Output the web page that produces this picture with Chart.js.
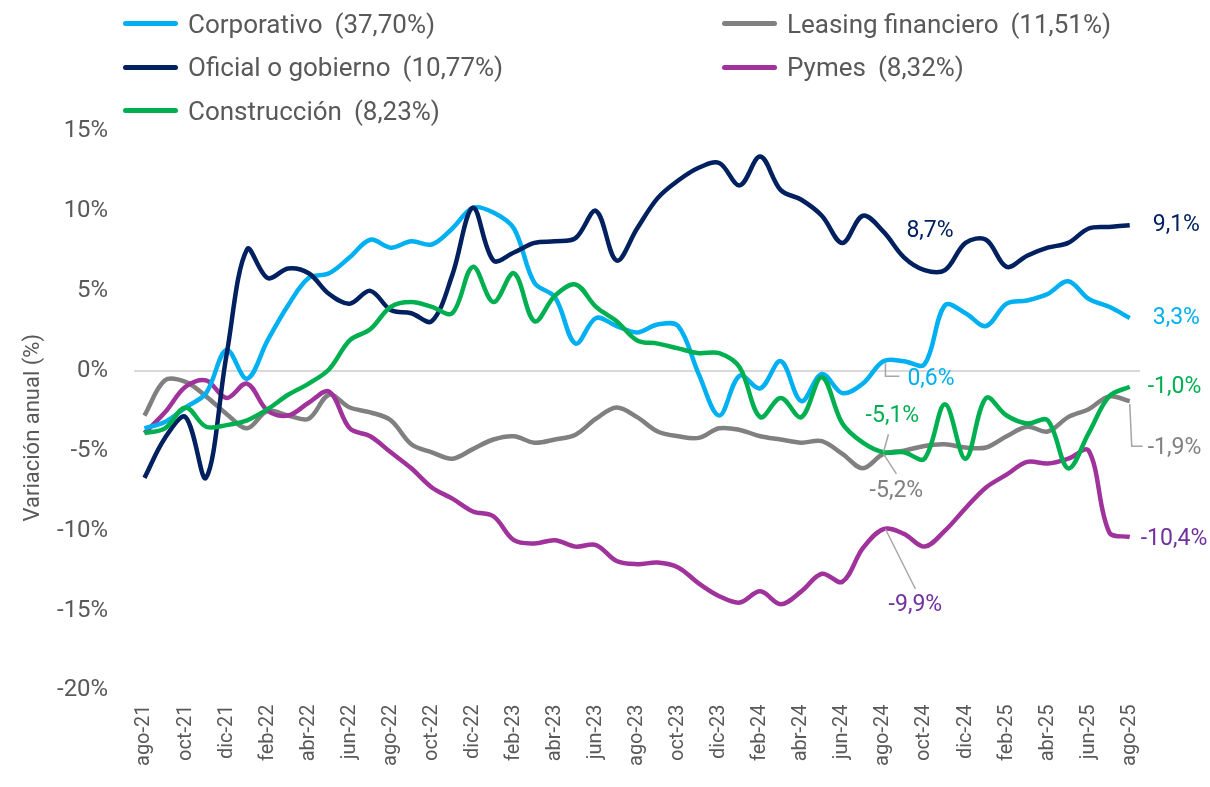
<!DOCTYPE html>
<html lang="es">
<head>
    <meta charset="UTF-8">
    <title>Variación anual de la cartera por segmento</title>
    <script src="https://cdn.jsdelivr.net/npm/chart.js"></script>
    <style>
        body { margin: 0; background: #fff; font-family: Roboto, sans-serif; }
        #wrap { position: relative; width: 1210px; height: 787px; }
        #leyenda {
            position: absolute; left: 123px; top: 2px;
            display: grid; grid-auto-flow: column;
            grid-template-rows: repeat(3, 43.5px);
            grid-template-columns: 599px auto;
        }
        .item { display: flex; align-items: center; font-size: 26px; color: #595959; white-space: nowrap; }
        .item .linea { width: 55px; height: 5px; border-radius: 3px; margin-right: 10px; }
        .item .pct { margin-left: 12px; }
    </style>
</head>
<body>
<div id="wrap">
    <canvas id="grafico" width="1210" height="787"></canvas>
    <div id="leyenda"></div>
</div>

<script>
    const meses = ['ago-21','sep-21','oct-21','nov-21','dic-21','ene-22','feb-22','mar-22','abr-22','may-22','jun-22','jul-22',
        'ago-22','sep-22','oct-22','nov-22','dic-22','ene-23','feb-23','mar-23','abr-23','may-23','jun-23','jul-23',
        'ago-23','sep-23','oct-23','nov-23','dic-23','ene-24','feb-24','mar-24','abr-24','may-24','jun-24','jul-24',
        'ago-24','sep-24','oct-24','nov-24','dic-24','ene-25','feb-25','mar-25','abr-25','may-25','jun-25','jul-25','ago-25'];

    const corporativo = [-3.6, -3.2, -2.3, -1.4, 1.3, -0.5, 1.9, 4.1, 5.8, 6.1, 7.1, 8.2,
        7.7, 8.1, 7.9, 8.9, 10.2, 9.9, 8.9, 5.5, 4.6, 1.7, 3.3, 2.8,
        2.4, 2.9, 2.8, -0.2, -2.8, -0.3, -1.1, 0.6, -1.9, -0.2, -1.4, -0.8,
        0.6, 0.6, 0.4, 4.1, 3.6, 2.8, 4.2, 4.4, 4.8, 5.6, 4.5, 4.0, 3.3];

    const oficial = [-6.7, -4.2, -2.9, -6.7, 1.0, 7.6, 5.8, 6.4, 6.1, 4.8, 4.2, 5.0,
        3.8, 3.6, 3.1, 6.0, 10.2, 6.9, 7.4, 8.0, 8.1, 8.3, 10.0, 6.9,
        8.9, 10.8, 11.9, 12.7, 13.0, 11.6, 13.4, 11.3, 10.7, 9.7, 8.0, 9.7,
        8.7, 7.1, 6.3, 6.3, 8.0, 8.2, 6.5, 7.2, 7.7, 8.0, 8.9, 9.0, 9.1];

    const construccion = [-3.9, -3.6, -2.3, -3.5, -3.4, -3.1, -2.4, -1.5, -0.8, 0.1, 1.9, 2.6,
        4.0, 4.3, 4.0, 3.6, 6.5, 4.3, 6.1, 3.1, 4.7, 5.4, 4.0, 3.1,
        1.9, 1.7, 1.4, 1.1, 1.1, 0.2, -2.9, -1.7, -2.9, -0.4, -3.3, -4.5,
        -5.1, -5.1, -5.5, -2.1, -5.5, -1.7, -2.8, -3.3, -3.1, -6.1, -3.9, -1.6, -1.0];

    const leasing = [-2.8, -0.6, -0.7, -1.6, -2.7, -3.6, -2.5, -2.8, -3.0, -1.5, -2.3, -2.6,
        -3.1, -4.6, -5.1, -5.5, -4.9, -4.3, -4.1, -4.5, -4.3, -4.0, -3.0, -2.3,
        -2.9, -3.8, -4.1, -4.2, -3.6, -3.7, -4.1, -4.3, -4.5, -4.4, -5.2, -6.1,
        -5.2, -5.0, -4.7, -4.6, -4.8, -4.8, -4.1, -3.5, -3.8, -2.9, -2.4, -1.6, -1.9];

    const pymes = [-3.9, -2.6, -1.0, -0.6, -1.7, -0.8, -2.5, -2.8, -2.0, -1.3, -3.6, -4.1,
        -5.1, -6.1, -7.3, -8.0, -8.8, -9.1, -10.6, -10.8, -10.6, -11.0, -10.9, -11.9,
        -12.1, -12.0, -12.3, -13.3, -14.1, -14.5, -13.8, -14.6, -13.8, -12.7, -13.2, -11.1,
        -9.9, -10.2, -11.0, -10.0, -8.6, -7.3, -6.5, -5.7, -5.8, -5.5, -5.0, -10.1, -10.4];

    const nombres = ['Corporativo', 'Oficial o gobierno', 'Construcción', 'Leasing financiero', 'Pymes'];
    const participacion = [37.70, 10.77, 8.23, 11.51, 8.32];
    const series = [corporativo, oficial, construccion, leasing, pymes];
    const colores = ['#00B0F0', '#002060', '#00B050', '#808080', '#A0329B'];
    const coloresTexto = ['#00B0F0', '#002060', '#00B050', '#808080', '#7030A0'];

    const coma = (v, d) => v.toFixed(d).replace('.', ',');

    // leyenda en dos columnas
    const leyenda = document.getElementById('leyenda');
    nombres.forEach((n, k) => {
        const item = document.createElement('div');
        item.className = 'item';
        item.innerHTML = '<span class="linea" style="background:' + colores[k] + '"></span>' +
            '<span>' + n + '</span><span class="pct">(' + coma(participacion[k], 2) + '%)</span>';
        leyenda.appendChild(item);
    });

    // etiquetas de valor: serie, punto, desplazamiento y guía
    const notas = [
        { s: 1, i: 48, dx: 23, dy: 0, align: 'left' },
        { s: 0, i: 48, dx: 23, dy: 0, align: 'left' },
        { s: 2, i: 48, dx: 18, dy: 0, align: 'left' },
        { s: 3, i: 48, dx: 18, dy: 47, align: 'left', guia: [[0, 3], [2, 45], [13, 45]] },
        { s: 4, i: 48, dx: 11, dy: 2, align: 'left' },
        { s: 1, i: 36, dx: 23, dy: 0, align: 'left' },
        { s: 0, i: 36, dx: 24, dy: 18, align: 'left', guia: [[2, 2], [2, 15], [16, 15]] },
        { s: 2, i: 36, dx: 9, dy: -36, align: 'center', guia: [[0, 0], [5, -18]] },
        { s: 3, i: 36, dx: 13, dy: 37, align: 'center', guia: [[0, 0], [13, 20]] },
        { s: 4, i: 36, dx: 32, dy: 76, align: 'center', guia: [[2, 0], [32, 60]] }
    ];

    const etiquetasPlugin = {
        id: 'etiquetas',
        afterDatasetsDraw(chart) {
            const ctx = chart.ctx;
            const area = chart.chartArea;
            ctx.save();
            // título del eje y
            ctx.fillStyle = '#595959';
            ctx.font = '22px Roboto';
            ctx.textAlign = 'center';
            ctx.textBaseline = 'middle';
            ctx.translate(33, (area.top + area.bottom) / 2 + 17);
            ctx.rotate(-Math.PI / 2);
            ctx.fillText('Variación anual (%)', 0, 0);
            ctx.restore();

            ctx.save();
            ctx.font = '23px Roboto';
            ctx.textBaseline = 'middle';
            notas.forEach(n => {
                const pt = chart.getDatasetMeta(n.s).data[n.i];
                if (n.guia) {
                    ctx.strokeStyle = '#A6A6A6';
                    ctx.lineWidth = 1.5;
                    ctx.beginPath();
                    n.guia.forEach((g, k) => {
                        if (k === 0) ctx.moveTo(pt.x + g[0], pt.y + g[1]);
                        else ctx.lineTo(pt.x + g[0], pt.y + g[1]);
                    });
                    ctx.stroke();
                }
                ctx.fillStyle = coloresTexto[n.s];
                ctx.textAlign = n.align;
                ctx.fillText(coma(series[n.s][n.i], 1) + '%', pt.x + n.dx, pt.y + n.dy);
            });
            ctx.restore();
        }
    };

    Chart.defaults.font.family = 'Roboto';

    // orden de dibujo: el primero queda encima
    const orden = [2, 1, 0, 4, 3];

    new Chart(document.getElementById('grafico'), {
        type: 'line',
        data: {
            labels: meses,
            datasets: series.map((d, k) => ({
                label: nombres[k],
                data: d,
                borderColor: colores[k],
                backgroundColor: colores[k],
                order: orden.indexOf(k)
            }))
        },
        options: {
            responsive: false,
            animation: false,
            layout: { padding: { top: 131, left: 31, right: 70, bottom: 15 } },
            plugins: { legend: { display: false }, tooltip: { enabled: false } },
            elements: {
                point: { radius: 0 },
                line: { borderWidth: 4.5, tension: 0.35 }
            },
            scales: {
                x: {
                    offset: true,
                    grid: { display: false },
                    border: { display: false },
                    ticks: {
                        autoSkip: false, minRotation: 90, maxRotation: 90,
                        color: '#595959', font: { size: 20 }, padding: 6,
                        callback: (v, i) => i % 2 === 0 ? meses[i] : ''
                    }
                },
                y: {
                    min: -20, max: 15,
                    border: { display: false },
                    grid: {
                        drawTicks: false, lineWidth: 2,
                        color: c => c.tick && c.tick.value === 0 ? '#D9D9D9' : 'rgba(0,0,0,0)'
                    },
                    ticks: {
                        stepSize: 5, color: '#595959', font: { size: 24 }, padding: 26,
                        callback: v => v + '%'
                    }
                }
            }
        },
        plugins: [etiquetasPlugin]
    });
</script>
</body>
</html>
